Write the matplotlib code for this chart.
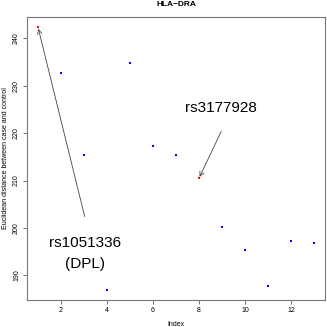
import numpy as np
import matplotlib
matplotlib.use("Agg")
import matplotlib.pyplot as plt

plt.rcParams["font.family"] = ["Liberation Sans", "DejaVu Sans"]

index = np.arange(1, 14)
dist = [242.3, 232.7, 215.4, 187.0, 234.7, 217.3, 215.4,
        210.5, 200.3, 195.3, 187.8, 197.2, 196.8]
highlight = [1, 8]
labels = {1: "rs1051336\n(DPL)", 8: "rs3177928"}
label_pos = {1: (3.03, 194.6), 8: (8.97, 225.4)}
arrow_tail = {1: (3.03, 202.4), 8: (8.97, 220.4)}

fig = plt.figure(figsize=(3.27, 3.27), dpi=100)
ax = fig.add_axes([27 / 327, 1 - 300 / 327, 298 / 327, 283 / 327])

cols = ["red" if i in highlight else "blue" for i in index]
ax.scatter(index, dist, c=cols, marker="s", s=2.0, linewidths=0, zorder=3)

ax.set_xlim(0.52, 13.48)
ax.set_ylim(184.8, 244.5)
ax.set_xticks([2, 4, 6, 8, 10, 12])
ax.set_yticks([190, 200, 210, 220, 230, 240])
ax.tick_params(labelsize=5, length=3, width=0.6, color="#555555", pad=2)
for lab in ax.get_yticklabels():
    lab.set_rotation(90)
    lab.set_va("center")
for sp in ax.spines.values():
    sp.set_color("#777777")
    sp.set_linewidth(0.8)

ax.set_xlabel("Index", fontsize=5, labelpad=5)
ax.set_ylabel("Euclidean distance between case and control", fontsize=5, labelpad=3)
ax.set_title("HLA\u2212DRA", fontsize=6, fontweight="bold", pad=8)

for i in highlight:
    ax.annotate("", xy=(i, dist[i - 1]), xytext=arrow_tail[i],
                arrowprops=dict(arrowstyle="->", color="#444444", lw=0.6,
                                shrinkA=0, shrinkB=1, mutation_scale=8))
    ax.text(*label_pos[i], labels[i], fontsize=11, ha="center", va="center",
            linespacing=1.7)

fig.savefig("out.png", dpi=100)
